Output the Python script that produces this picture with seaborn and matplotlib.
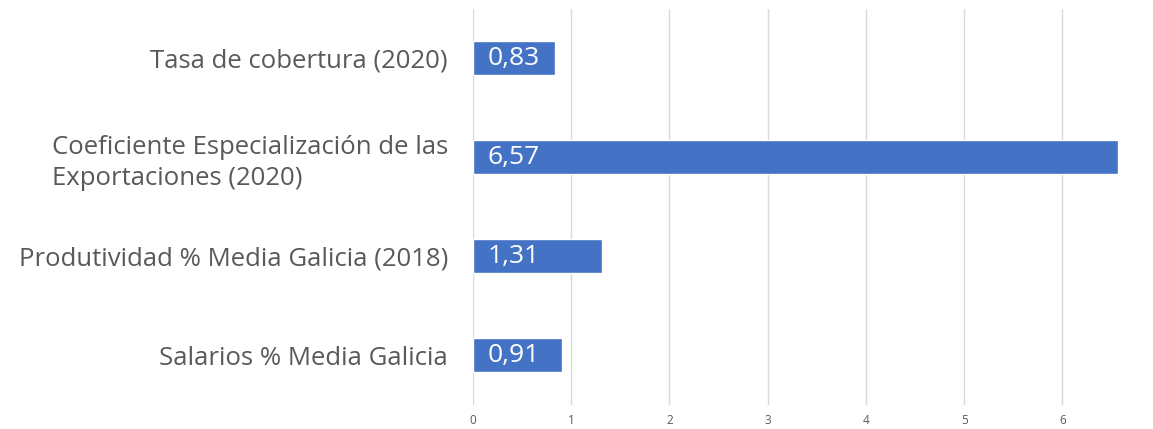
import pandas as pd
import seaborn as sns
import matplotlib.pyplot as plt

categories = ['Tasa de cobertura (2020)',
              'Coeficiente Especialización de las\nExportaciones (2020)',
              'Produtividad % Media Galicia (2018)',
              'Salarios % Media Galicia']
values = [0.83, 6.57, 1.31, 0.91]
value_labels = ['0,83', '6,57', '1,31', '0,91']
x_ticks = [0, 1, 2, 3, 4, 5, 6]

df = pd.DataFrame({'indicador': categories, 'valor': values})

sns.set_style('white')
plt.rcParams['font.family'] = ['Open Sans', 'DejaVu Sans']

fig = plt.figure(figsize=(11.53, 4.29), dpi=100)
ax = fig.add_axes([0.4102, 0.0571, 0.5794, 0.9229])

sns.barplot(data=df, x='valor', y='indicador', color='#4472C4',
            width=0.35, saturation=1, ax=ax)

for bar, lab in zip(ax.patches, value_labels):
    ax.text(0.15, bar.get_y() + bar.get_height() / 2, lab,
            color='white', fontsize=19, va='center', ha='left')

ax.set_xlim(0, 6.8)
ax.set_xticks(x_ticks)
ax.grid(axis='x', color='#D9D9D9', linewidth=1)
ax.set_axisbelow(True)
ax.set_xlabel('')
ax.set_ylabel('')
for s in ax.spines.values():
    s.set_visible(False)
ax.tick_params(axis='x', length=0, labelsize=8.5, labelcolor='#595959', pad=7)
ax.tick_params(axis='y', length=0, labelsize=18.5, labelcolor='#595959', pad=18)
for t in ax.get_yticklabels():
    t.set_multialignment('left')
    t.set_linespacing(1.3)

fig.savefig('out.png', dpi=100)
